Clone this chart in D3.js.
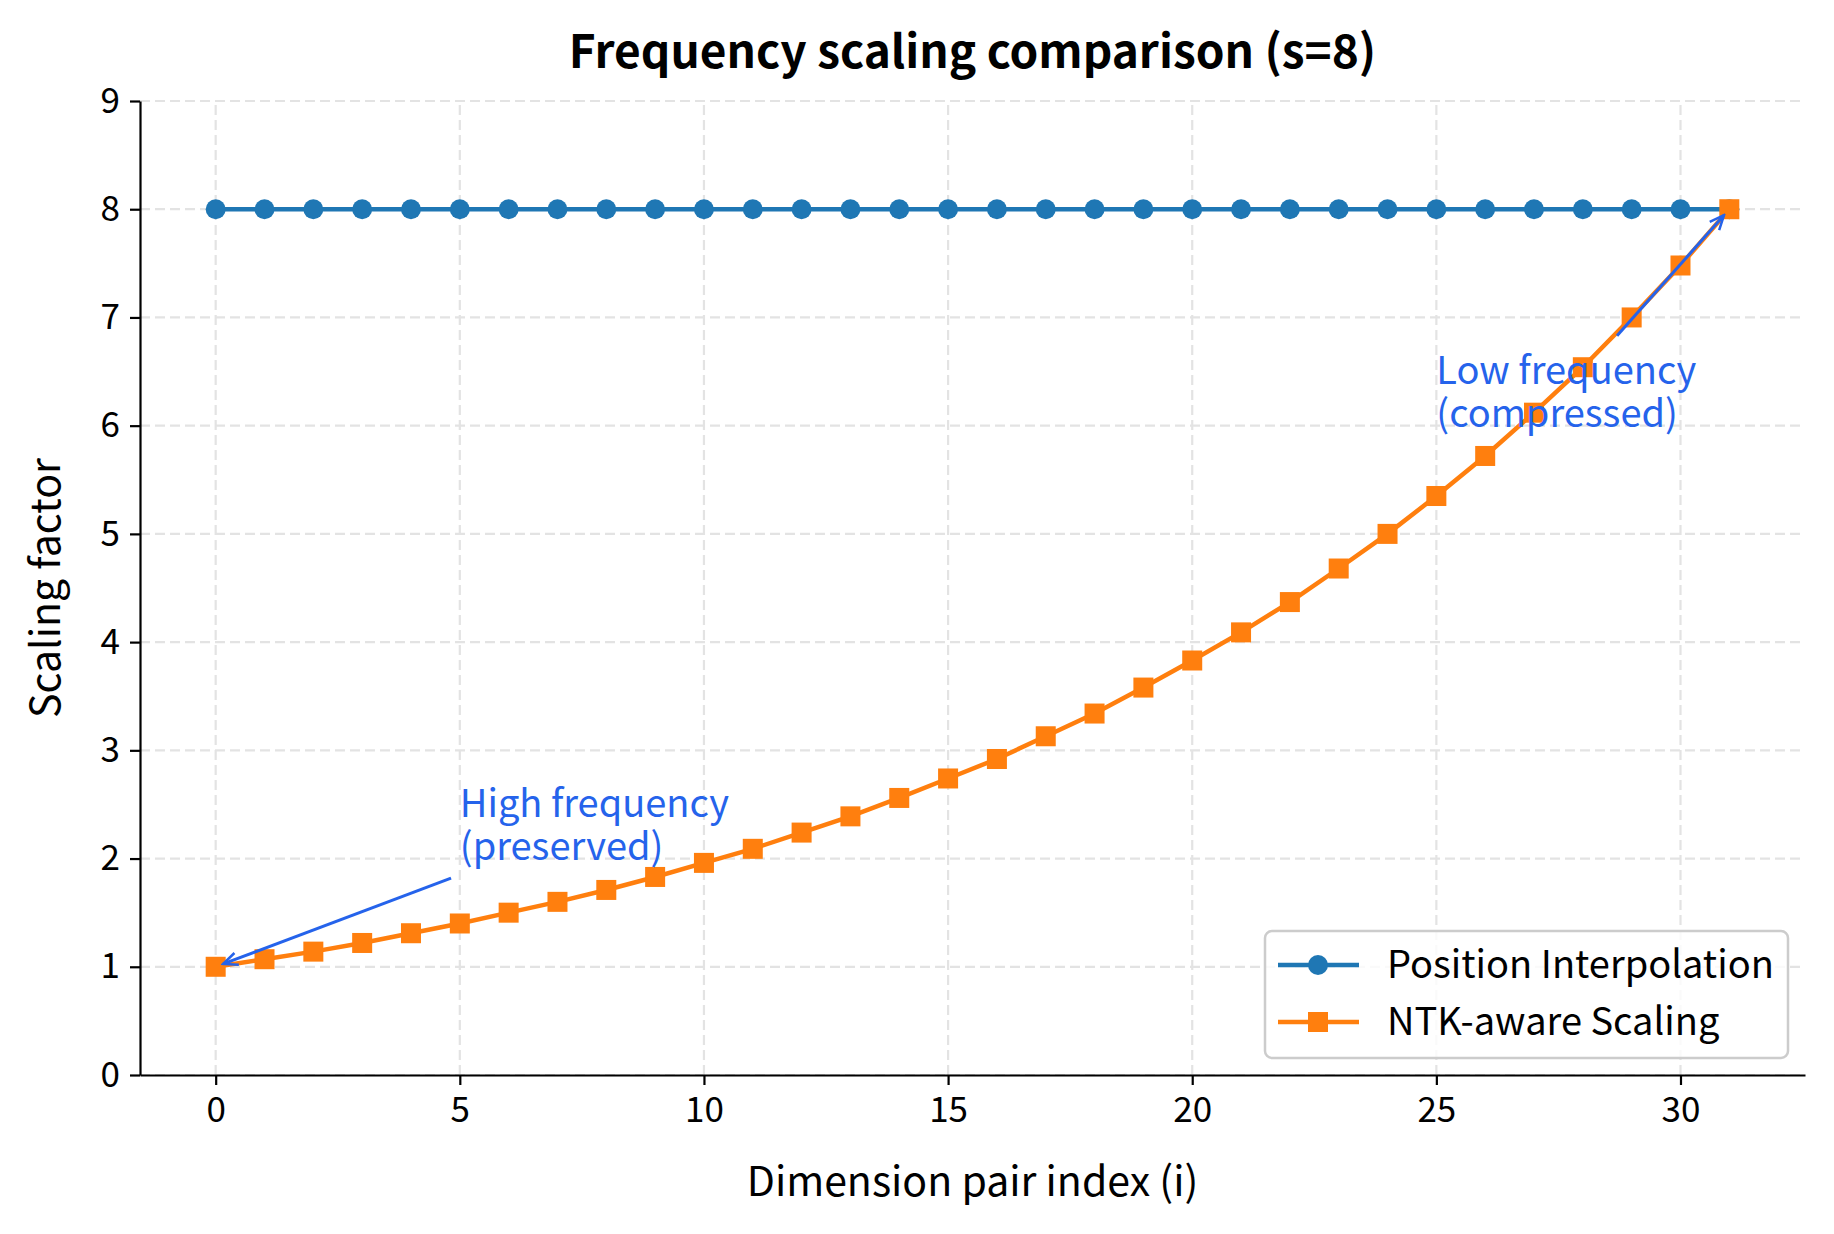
<!DOCTYPE html>
<html>
<head>
<meta charset="utf-8">
<script src="https://cdn.jsdelivr.net/npm/d3@7"></script>
<style>
  body { margin: 0; background: #fff; }
  svg { display: block; font-family: "Noto Sans CJK SC", "Noto Sans", sans-serif; }
</style>
</head>
<body>
<svg></svg>
<script>
// data
let dims = d3.range(0, 32);
let piValues = [8, 8, 8, 8, 8, 8, 8, 8, 8, 8, 8, 8, 8, 8, 8, 8,
                8, 8, 8, 8, 8, 8, 8, 8, 8, 8, 8, 8, 8, 8, 8, 8];
let ntkValues = [1.00, 1.07, 1.14, 1.22, 1.31, 1.40, 1.50, 1.60, 1.71, 1.83, 1.96, 2.09,
                 2.24, 2.39, 2.56, 2.74, 2.92, 3.13, 3.34, 3.58, 3.83, 4.09, 4.37, 4.68,
                 5.00, 5.35, 5.72, 6.12, 6.54, 7.00, 7.48, 8.00];
let seriesNames = ['Position Interpolation', 'NTK-aware Scaling'];
let xTicks = [0, 5, 10, 15, 20, 25, 30];
let yTicks = [0, 1, 2, 3, 4, 5, 6, 7, 8, 9];
let annotations = [
  { lines: ['High frequency', '(preserved)'], tx: 5, ty: 2, from: [4.82, 1.82], to: [0, 1] },
  { lines: ['Low frequency', '(compressed)'], tx: 25, ty: 6, from: [28.7, 6.83], to: [31, 8] }
];

let width = 1834;
let height = 1234;
let margin = { left: 140, right: 29, top: 101, bottom: 159 };

let blue = '#1f77b4';
let orange = '#ff7f0e';
let noteColor = '#2563eb';
let tickSize = 35;
let labelSize = 38;
let axisLabelSize = 41;

let svg = d3.select('svg').attr('width', width).attr('height', height);

let xScale = d3.scaleLinear()
    .domain([-1.55, 32.55])
    .range([margin.left, width - margin.right]);

let yScale = d3.scaleLinear()
    .domain([0, 9])
    .range([height - margin.bottom, margin.top]);

// grid
let grid = svg.append('g');
grid.selectAll('.vgrid').data(xTicks).enter().append('line')
    .attr('x1', d => xScale(d)).attr('x2', d => xScale(d))
    .attr('y1', yScale(0)).attr('y2', yScale(9))
    .attr('stroke', '#e3e3e3').attr('stroke-width', 2.2).attr('stroke-dasharray', '10,5');
grid.selectAll('.hgrid').data(yTicks).enter().append('line')
    .attr('x1', xScale.range()[0]).attr('x2', xScale.range()[1])
    .attr('y1', d => yScale(d)).attr('y2', d => yScale(d))
    .attr('stroke', '#e3e3e3').attr('stroke-width', 2.2).attr('stroke-dasharray', '10,5');

// axes
let xAxis = d3.axisBottom(xScale).tickValues(xTicks).tickSize(10).tickPadding(12).tickSizeOuter(0);
let yAxis = d3.axisLeft(yScale).tickValues(yTicks).tickSize(10).tickPadding(10).tickSizeOuter(0);

let gx = svg.append('g')
    .attr('transform', `translate(0, ${height - margin.bottom})`)
    .call(xAxis);
let gy = svg.append('g')
    .attr('transform', `translate(${margin.left}, 0)`)
    .call(yAxis);

[gx, gy].forEach(g => {
  g.attr('font-family', null).attr('font-size', null);
  g.select('.domain').attr('stroke', '#000').attr('stroke-width', 2.2);
  g.selectAll('.tick line').attr('stroke', '#000').attr('stroke-width', 2.2);
  g.selectAll('.tick text').attr('fill', '#000').style('font-size', tickSize + 'px');
});

// lines
let line = d3.line()
    .x((d, i) => xScale(dims[i]))
    .y(d => yScale(d));

svg.append('path').datum(piValues)
    .attr('d', line).attr('fill', 'none').attr('stroke', blue).attr('stroke-width', 4.5);
svg.selectAll('.pi-dot').data(piValues).enter().append('circle')
    .attr('cx', (d, i) => xScale(dims[i])).attr('cy', d => yScale(d))
    .attr('r', 10).attr('fill', blue);

svg.append('path').datum(ntkValues)
    .attr('d', line).attr('fill', 'none').attr('stroke', orange).attr('stroke-width', 4.5);
let sq = 20;
svg.selectAll('.ntk-sq').data(ntkValues).enter().append('rect')
    .attr('x', (d, i) => xScale(dims[i]) - sq / 2).attr('y', d => yScale(d) - sq / 2)
    .attr('width', sq).attr('height', sq).attr('fill', orange);

// annotations
svg.append('defs').append('marker')
    .attr('id', 'arrow').attr('viewBox', '0 0 20 20').attr('refX', 18).attr('refY', 10)
    .attr('markerWidth', 6).attr('markerHeight', 6).attr('markerUnits', 'strokeWidth')
    .attr('orient', 'auto')
    .append('path').attr('d', 'M2,3 L18,10 L2,17')
    .attr('fill', 'none').attr('stroke', noteColor).attr('stroke-width', 2.8);

annotations.forEach(a => {
  let x1 = xScale(a.from[0]), y1 = yScale(a.from[1]);
  let x2 = xScale(a.to[0]), y2 = yScale(a.to[1]);
  let len = Math.hypot(x2 - x1, y2 - y1);
  let shrink = 8;
  x2 = x2 - (x2 - x1) / len * shrink;
  y2 = y2 - (y2 - y1) / len * shrink;
  svg.append('line')
    .attr('x1', x1).attr('y1', y1).attr('x2', x2).attr('y2', y2)
    .attr('stroke', noteColor).attr('stroke-width', 3).attr('marker-end', 'url(#arrow)');
  // one text per line, spaced like the reference
  let step = labelSize * 1.12;
  a.lines.forEach((l, i) => {
    svg.append('text')
      .attr('x', xScale(a.tx))
      .attr('y', yScale(a.ty) + 1 - (a.lines.length - 1 - i) * step)
      .attr('fill', noteColor).style('font-size', labelSize + 'px')
      .text(l);
  });
});

// legend
let legend = svg.append('g').attr('transform', 'translate(1265, 931)');
legend.append('rect').attr('width', 523).attr('height', 127).attr('rx', 7)
    .attr('fill', 'rgba(255,255,255,0.8)').attr('stroke', '#cccccc').attr('stroke-width', 2.5);
let entries = [
  { name: seriesNames[0], color: blue, shape: 'circle' },
  { name: seriesNames[1], color: orange, shape: 'square' }
];
entries.forEach((e, i) => {
  let y = 34 + i * 57;
  legend.append('line').attr('x1', 13).attr('x2', 94).attr('y1', y).attr('y2', y)
    .attr('stroke', e.color).attr('stroke-width', 4.5);
  if (e.shape === 'circle') {
    legend.append('circle').attr('cx', 53).attr('cy', y).attr('r', 10).attr('fill', e.color);
  } else {
    legend.append('rect').attr('x', 53 - sq / 2).attr('y', y - sq / 2).attr('width', sq).attr('height', sq).attr('fill', e.color);
  }
  legend.append('text').attr('x', 122).attr('y', y).attr('dy', '0.35em')
    .style('font-size', labelSize + 'px').text(e.name);
});

// title and axis labels
svg.append('text').attr('x', (margin.left + width - margin.right) / 2).attr('y', 68)
    .attr('text-anchor', 'middle').style('font-size', '46px').style('font-weight', 'bold')
    .text('Frequency scaling comparison (s=8)');

svg.append('text').attr('x', (margin.left + width - margin.right) / 2).attr('y', 1196)
    .attr('text-anchor', 'middle').style('font-size', axisLabelSize + 'px')
    .text('Dimension pair index (i)');

svg.append('text')
    .attr('transform', `translate(60, ${(margin.top + height - margin.bottom) / 2}) rotate(-90)`)
    .attr('text-anchor', 'middle').style('font-size', axisLabelSize + 'px')
    .text('Scaling factor');
</script>
</body>
</html>
